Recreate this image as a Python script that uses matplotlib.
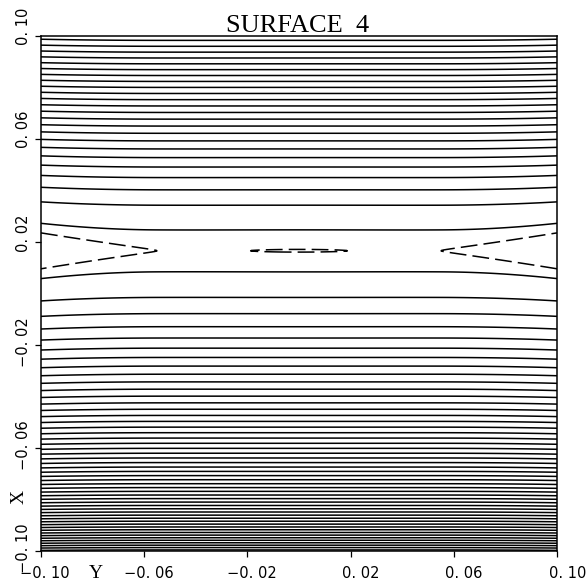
import numpy as np
import matplotlib
matplotlib.use("Agg")
import matplotlib.pyplot as plt
from matplotlib.transforms import ScaledTranslation, blended_transform_factory

# ---- axis ticks (same on both axes) ----
x_ticks = [-0.10, -0.06, -0.02, 0.02, 0.06, 0.10]
x_ticklabels = ["\u22120. 10", "\u22120. 06", "\u22120. 02", "0. 02", "0. 06", "0. 10"]
y_ticks = [-0.10, -0.06, -0.02, 0.02, 0.06, 0.10]
y_ticklabels = ["\u22120. 10", "\u22120. 06", "\u22120. 02", "0. 02", "0. 06", "0. 10"]

# ---- surface 4 model ----
# profile along X, measured from the valley floor (v = (X - x_valley) / 0.1)
x_valley = 0.0166
profile_coef = [39.7, 5.57, -9.0, -7.91, 2.06]      # v^2 .. v^6
# ripple along Y (w = Y / 0.1): small dip at centre, saddles, falling edges
ripple_inner = 0.19
ripple_saddle = 0.55
ripple_amp = 0.10
ripple_edge = 0.62

# contour levels: one dashed level at the valley, solid ones above it
dashed_levels = [0.0]
first_solid = 0.263
n_solid = 70

# ---- build the surface ----
Y = np.linspace(-0.1, 0.1, 1000)
X = np.linspace(-0.1, 0.1, 1000)
YY, XX = np.meshgrid(Y, X)
v = (XX - x_valley) / 0.1
w = YY / 0.1

Z = sum(c * v ** (k + 2) for k, c in enumerate(profile_coef))
Z = Z + ripple_amp * (w ** 2 - ripple_inner ** 2) * (ripple_saddle ** 2 - w ** 2)
Z = Z - ripple_edge * np.clip(np.abs(w) - ripple_saddle, 0, None) ** 2

solid_levels = first_solid + np.arange(n_solid)

# ---- plot ----
fig = plt.figure(figsize=(5.88, 5.84), dpi=100)
ax = fig.add_axes([41 / 588, 33 / 584, 516 / 588, 515 / 584])

ax.contour(YY, XX, Z, levels=solid_levels, colors="k", linewidths=1.1)
cs = ax.contour(YY, XX, Z, levels=dashed_levels, colors="k", linewidths=1.1)
cs.set_linestyle((0, (11, 4)))

ax.set_xlim(-0.1, 0.1)
ax.set_ylim(-0.1, 0.1)
ax.set_xticks(x_ticks)
ax.set_yticks(y_ticks)
ax.set_xticklabels([])
ax.set_yticklabels([])
ax.tick_params(direction="out", length=4.3, width=0.9, top=False, right=False)
for sp in ax.spines.values():
    sp.set_linewidth(1.1)


def px(dx, dy):
    return ScaledTranslation(dx / 100, dy / 100, fig.dpi_scale_trans)


tick_font = dict(fontsize=10.5, family="DejaVu Sans")
xt = blended_transform_factory(ax.transData, ax.transAxes)
for t, lab in zip(x_ticks, x_ticklabels):
    ax.text(t, 0, lab, transform=xt + px(29, -27), ha="right", va="baseline", **tick_font)

yt = blended_transform_factory(ax.transAxes, ax.transData)
for t, lab in zip(y_ticks, y_ticklabels):
    ax.text(0, t, lab, transform=yt + px(-13, 28), rotation=90, rotation_mode="anchor",
            ha="right", va="baseline", **tick_font)

serif = "Liberation Serif"
fig.text(297.5 / 588, 1 - 32 / 584, "SURFACE  4", ha="center", va="baseline",
         fontsize=19, family=serif)
fig.text(96 / 588, 1 - 578 / 584, "Y", ha="center", va="baseline", fontsize=14, family=serif)
fig.text(19 / 588, 1 - 497 / 584, "X", ha="center", va="center", rotation=90,
         fontsize=14, family=serif)

fig.savefig("out.png", dpi=100)
